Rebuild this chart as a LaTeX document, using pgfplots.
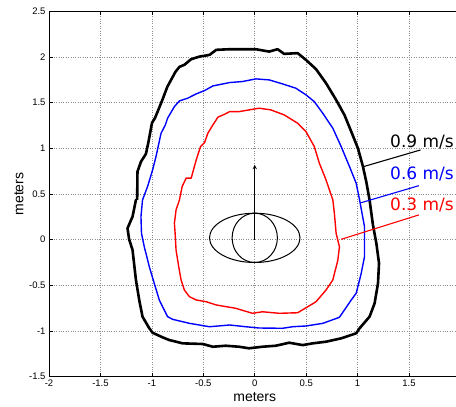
\documentclass[border=0pt]{standalone}
\usepackage{pgfplots}
\pgfplotsset{compat=1.18}
\usepackage{fontspec}
\setmainfont{Liberation Sans}
\newfontfamily\dejavu{DejaVu Sans}
\begin{document}
\begin{tikzpicture}
\begin{axis}[
  at={(49pt,30.3pt)}, anchor=south west,
  scale only axis, width=411.5pt, height=365.4pt,
  xmin=-2, xmax=2, ymin=-1.5, ymax=2.5,
  xtick={-2,-1.5,-1,-0.5,0,0.5,1,1.5},
  ytick={-1.5,-1,-0.5,0,0.5,1,1.5,2,2.5},
  grid=major, grid style={dotted, black!45, line width=0.7pt},
  tick align=inside, major tick length=4pt,
  axis line style={line width=0.9pt},
  tick style={black, line width=0.6pt},
  ticklabel style={font=\fontsize{9.5}{10}\selectfont},
  /pgf/number format/assume math mode=true,
  xlabel={meters}, ylabel={meters},
  xlabel style={at={(axis description cs:0.5,0)}, anchor=base, yshift=-24.8pt, font=\fontsize{14}{16}\selectfont, inner sep=0pt},
  ylabel style={at={(axis description cs:-0.0625,0.5)}, anchor=base, font=\fontsize{14}{16}\selectfont, inner sep=0pt},
  clip=false,
]
% 0.9 m/s contour
\addplot[black, line width=2.6pt, line join=round] coordinates {
(-1.143,0.435) (-1.140,0.745) (-1.106,0.854) (-1.058,0.939) (-1.035,1.059)
(-0.999,1.278) (-0.969,1.333) (-0.898,1.530) (-0.850,1.673) (-0.771,1.837)
(-0.732,1.892) (-0.684,1.914) (-0.618,1.976) (-0.537,2.004) (-0.439,2.023)
(-0.374,2.078) (-0.244,2.085) (0.010,2.085) (0.140,2.059) (0.222,2.085)
(0.286,2.034) (0.417,2.042) (0.498,1.968) (0.596,1.866) (0.693,1.713)
(0.791,1.530) (0.872,1.365) (0.938,1.183) (1.003,1.001) (1.052,0.800)
(1.084,0.635) (1.116,0.435) (1.149,0.161) (1.182,-0.039) (1.208,-0.258)
(1.198,-0.478) (1.165,-0.697) (1.116,-0.843) (1.019,-0.970) (0.986,-1.025)
(0.840,-1.080) (0.693,-1.117) (0.563,-1.135) (0.466,-1.154) (0.335,-1.128)
(0.205,-1.161) (0.075,-1.172) (-0.056,-1.189) (-0.153,-1.172) (-0.283,-1.161)
(-0.407,-1.172) (-0.505,-1.142) (-0.700,-1.135) (-0.830,-1.099) (-0.896,-1.069)
(-0.993,-1.019) (-1.025,-0.970) (-1.091,-0.843) (-1.123,-0.660) (-1.155,-0.441)
(-1.188,-0.113) (-1.221,0.004) (-1.237,0.125) (-1.188,0.252) (-1.155,0.435)
(-1.143,0.435)
};
% 0.6 m/s contour
\addplot[blue, line width=1.4pt, line join=round] coordinates {
(-1.091,0.435) (-1.042,0.581) (-0.993,0.763) (-0.960,0.909) (-0.911,1.165)
(-0.869,1.256) (-0.847,1.330) (-0.781,1.457) (-0.732,1.519) (-0.651,1.549)
(-0.569,1.596) (-0.488,1.632) (-0.407,1.683) (-0.244,1.720) (-0.120,1.731)
(0.010,1.760) (0.140,1.749) (0.271,1.705) (0.400,1.658) (0.498,1.585)
(0.579,1.511) (0.661,1.384) (0.759,1.220) (0.840,1.019) (0.921,0.800)
(0.986,0.618) (1.019,0.435) (1.067,0.142) (1.067,-0.186) (1.035,-0.368)
(0.986,-0.587) (0.938,-0.660) (0.823,-0.850) (0.661,-0.916) (0.498,-0.945)
(0.368,-0.953) (0.271,-0.970) (0.042,-0.967) (-0.088,-0.953) (-0.244,-0.934)
(-0.439,-0.953) (-0.635,-0.916) (-0.798,-0.872) (-0.847,-0.843) (-0.896,-0.734)
(-0.928,-0.660) (-0.977,-0.478) (-1.025,-0.296) (-1.074,-0.077) (-1.101,0.070)
(-1.106,0.252) (-1.091,0.435)
};
% 0.3 m/s contour
\addplot[red, line width=1.4pt, line join=round] coordinates {
(-0.732,0.435) (-0.706,0.581) (-0.667,0.673) (-0.618,0.673) (-0.569,0.873)
(-0.527,1.019) (-0.488,1.062) (-0.456,1.165) (-0.407,1.256) (-0.358,1.341)
(-0.293,1.373) (-0.244,1.402) (-0.153,1.402) (0.042,1.439) (0.156,1.421)
(0.286,1.366) (0.417,1.275) (0.498,1.183) (0.579,1.019) (0.628,0.837)
(0.693,0.654) (0.759,0.435) (0.774,0.289) (0.791,0.070) (0.823,-0.077)
(0.808,-0.222) (0.759,-0.441) (0.693,-0.551) (0.596,-0.679) (0.417,-0.800)
(0.237,-0.806) (0.075,-0.789) (-0.022,-0.806) (-0.186,-0.751) (-0.374,-0.715)
(-0.472,-0.679) (-0.569,-0.660) (-0.635,-0.624) (-0.684,-0.551) (-0.716,-0.441)
(-0.739,-0.296) (-0.765,-0.113) (-0.774,0.070) (-0.781,0.180) (-0.765,0.325)
(-0.732,0.435)
};
% vehicle glyph
\draw[black, line width=1pt] (axis cs:0,0.02) ellipse [x radius=0.44, y radius=0.27];
\draw[black, line width=1pt] (axis cs:0,0.02) ellipse [x radius=0.22, y radius=0.27];
\draw[black, line width=1pt, -stealth] (axis cs:0,0) -- (axis cs:0,0.82);
% leader lines
\draw[black, line width=1.1pt] (axis cs:1.058,0.800) -- (axis cs:1.611,0.982);
\draw[blue, line width=1.1pt] (axis cs:1.035,0.405) -- (axis cs:1.595,0.591);
\draw[red, line width=1.1pt] (axis cs:0.840,0.004) -- (axis cs:1.595,0.271);
\node[anchor=base west, inner sep=0pt, text=black, font=\dejavu\fontsize{17}{20}\selectfont] at (axis cs:1.315,1.012) {0.9 m/s};
\node[anchor=base west, inner sep=0pt, text=blue, font=\dejavu\fontsize{17}{20}\selectfont] at (axis cs:1.315,0.654) {0.6 m/s};
\node[anchor=base west, inner sep=0pt, text=red, font=\dejavu\fontsize{17}{20}\selectfont] at (axis cs:1.315,0.320) {0.3 m/s};
\end{axis}
\pgfresetboundingbox
\useasboundingbox (0,0) rectangle (456pt,407pt);
\end{tikzpicture}
\end{document}
